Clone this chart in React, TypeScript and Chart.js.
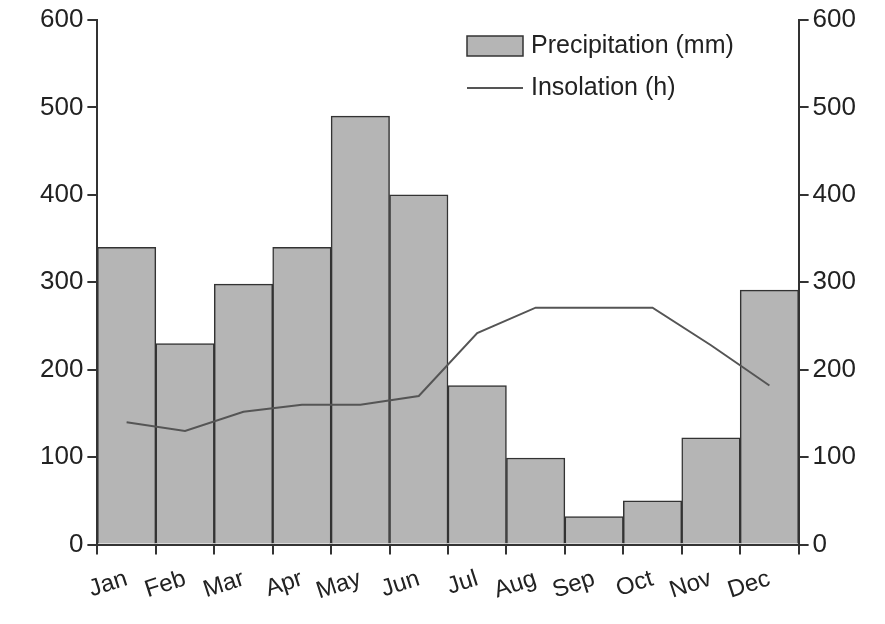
import { useEffect, useRef } from "react";
import Chart from "chart.js/auto";

const months = ["Jan", "Feb", "Mar", "Apr", "May", "Jun", "Jul", "Aug", "Sep", "Oct", "Nov", "Dec"];
const precipitation = [340, 230, 298, 340, 490, 400, 182, 99, 32, 50, 122, 291];
const insolation = [140, 130, 152, 160, 160, 170, 242, 271, 271, 271, 228, 182];

const FONT = "'Liberation Sans', Arial, sans-serif";

const legendPlugin = {
  id: "insideLegend",
  afterDraw(chart: any) {
    const ctx = chart.ctx;
    ctx.save();
    ctx.font = `25px ${FONT}`;
    ctx.textBaseline = "middle";
    ctx.fillStyle = "#b5b5b5";
    ctx.fillRect(467, 36, 56, 20);
    ctx.strokeStyle = "#333";
    ctx.lineWidth = 1.5;
    ctx.strokeRect(467, 36, 56, 20);
    ctx.fillStyle = "#222";
    ctx.fillText("Precipitation (mm)", 531, 46);
    ctx.strokeStyle = "#555";
    ctx.lineWidth = 2;
    ctx.beginPath();
    ctx.moveTo(467, 88);
    ctx.lineTo(523, 88);
    ctx.stroke();
    ctx.fillText("Insolation (h)", 531, 88);
    ctx.restore();
  },
};

export default function App() {
  const ref = useRef<HTMLCanvasElement>(null);

  useEffect(() => {
    document.body.style.margin = "0";
    if (!ref.current) return;
    const axisCommon = {
      min: 0,
      max: 600,
      border: { display: true, color: "#333", width: 2 },
      grid: { drawOnChartArea: false, color: "#333", lineWidth: 2, tickLength: 10 },
      ticks: { stepSize: 100, color: "#222", font: { family: FONT, size: 26 }, padding: 4 },
    };
    const chart = new Chart(ref.current, {
      type: "bar",
      data: {
        labels: months,
        datasets: [
          {
            type: "line",
            label: "Insolation (h)",
            data: insolation,
            borderColor: "#555",
            borderWidth: 2,
            pointRadius: 0,
            tension: 0,
            yAxisID: "y1",
            order: 0,
          },
          {
            type: "bar",
            label: "Precipitation (mm)",
            data: precipitation,
            backgroundColor: "#b5b5b5",
            borderColor: "#333",
            borderWidth: 1.5,
            categoryPercentage: 1,
            barPercentage: 1,
            yAxisID: "y",
            order: 1,
          },
        ],
      },
      options: {
        animation: false,
        responsive: true,
        maintainAspectRatio: false,
        layout: { padding: { top: 20, left: 36, right: 25, bottom: 8 } },
        plugins: { legend: { display: false }, tooltip: { enabled: false } },
        scales: {
          x: {
            offset: true,
            border: { display: true, color: "#333", width: 2 },
            grid: { offset: true, drawOnChartArea: false, color: "#333", lineWidth: 2, tickLength: 10 },
            ticks: {
              color: "#222",
              font: { family: FONT, size: 24 },
              minRotation: 18,
              maxRotation: 18,
              padding: 10,
            },
          },
          y: { ...axisCommon, position: "left" },
          y1: { ...axisCommon, position: "right" },
        },
      },
      plugins: [legendPlugin],
    });
    return () => chart.destroy();
  }, []);

  return (
    <div style={{ width: 885, height: 624, position: "relative", background: "#fff" }}>
      <canvas ref={ref}></canvas>
    </div>
  );
}
